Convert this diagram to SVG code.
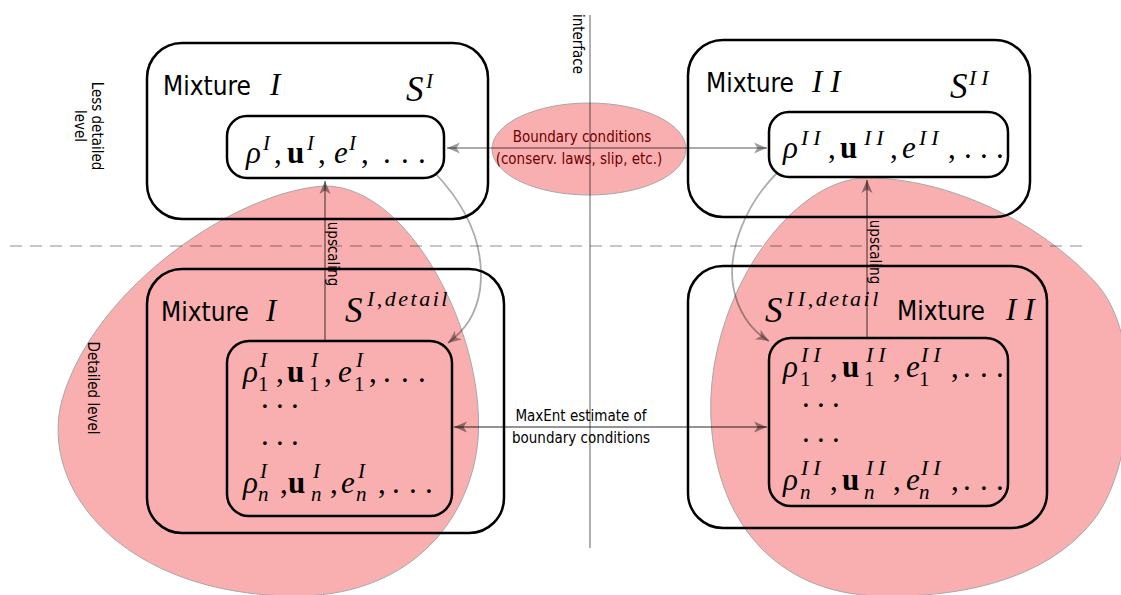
<svg xmlns="http://www.w3.org/2000/svg" width="1121" height="595" viewBox="0 0 1121 595">
  <style>
    .box { fill: none; stroke: #000; stroke-width: 2.5; }
    .blob { fill: #f9afaf; stroke: #a8a8a8; stroke-width: 1; }
    .lbl { font-family: "DejaVu Sans Condensed", "DejaVu Sans", sans-serif; fill: #000; }
    .mix { font-size: 26px; }
    .small { font-size: 15px; }
    .bc { fill: #700000; }
    .m { font-family: "Liberation Serif", "DejaVu Serif", serif; font-style: italic; font-size: 31px; fill: #000; }
    .b { font-style: normal; font-weight: bold; }
    .r { font-style: normal; }
    .sc { font-size: 21px; }
    .sc2 { font-size: 22px; letter-spacing: 5px; }
    .det { font-size: 22px; letter-spacing: 2.5px; }
    .big { font-size: 35px; }
    .roman2 { letter-spacing: 8px; }
    .dark { fill: none; stroke: #000; stroke-opacity: 0.42; stroke-width: 1.8; }
    .light { fill: none; stroke: #000; stroke-opacity: 0.33; stroke-width: 1.8; }
  </style>
  <defs>
    <marker id="arrDark" markerUnits="userSpaceOnUse" viewBox="0 -6 14 12" markerWidth="14" markerHeight="12" refX="13" refY="0" orient="auto-start-reverse">
      <path d="M 13,0 L 0,-5.5 L 3.5,0 L 0,5.5 Z" fill="#000" fill-opacity="0.42"/>
    </marker>
    <marker id="arrLight" markerUnits="userSpaceOnUse" viewBox="0 -6 14 12" markerWidth="14" markerHeight="12" refX="13" refY="0" orient="auto-start-reverse">
      <path d="M 13,0 L 0,-5.5 L 3.5,0 L 0,5.5 Z" fill="#000" fill-opacity="0.38"/>
    </marker>
  </defs>

  <rect width="1121" height="595" fill="#fff"/>

  <!-- detailed-level regions -->
  <g id="region-left">
    <path class="blob" d="M 325,186 C 240,190 95,285 62,400 C 38,490 125,594 292,596 C 405,598 470,525 478,440 C 486,335 410,186 325,186 Z"/>
  </g>
  <g id="region-right">
    <path class="blob" d="M 867,178 C 948,178 1040,222 1095,282 C 1145,335 1135,470 1092,522 C 1045,580 960,598 880,596 C 775,594 716,520 711,420 C 705,300 790,178 867,178 Z"/>
  </g>

  <!-- boundary condition bubble -->
  <g id="boundary">
    <ellipse class="blob" cx="589" cy="149" rx="97" ry="46"/>
  </g>

  <!-- guides: interface and level separator -->
  <g id="guides">
    <line x1="590" y1="15" x2="590" y2="548" stroke="#000" stroke-opacity="0.35" stroke-width="1.8"/>
    <line x1="10" y1="246" x2="1085" y2="246" stroke="#000" stroke-opacity="0.22" stroke-width="2" stroke-dasharray="12 8"/>
    <text class="lbl small" transform="translate(573,44) rotate(90)" text-anchor="middle">interface</text>
    <text class="lbl small" transform="translate(92,126) rotate(90)" text-anchor="middle">Less detailed</text>
    <text class="lbl small" transform="translate(75,126) rotate(90)" text-anchor="middle">level</text>
    <text class="lbl small" transform="translate(88,388) rotate(90)" text-anchor="middle">Detailed level</text>
  </g>

  <!-- Mixture I, coarse level -->
  <g id="mix1-coarse">
    <rect class="box" x="147" y="43" width="341" height="176" rx="35"/>
    <text class="lbl mix" x="163" y="95">Mixture</text>
    <text class="m" x="270" y="95">I</text>
    <text class="m"><tspan class="big" x="406" y="101">S</tspan><tspan class="sc" x="426" y="88">I</tspan></text>
    <g id="mix1-coarse-vars">
      <rect class="box" x="227" y="116" width="217" height="62" rx="20"/>
      <text class="m">
        <tspan x="246" y="163">ρ</tspan><tspan class="sc" x="263" y="150">I</tspan><tspan class="r" x="274" y="163">,</tspan>
        <tspan class="b" x="287" y="163">u</tspan><tspan class="sc" x="307" y="150">I</tspan><tspan class="r" x="318" y="163">,</tspan>
        <tspan x="334" y="163">e</tspan><tspan class="sc" x="349" y="150">I</tspan><tspan class="r" x="361" y="163">,</tspan>
        <tspan class="r" x="383 401 418" y="163">...</tspan>
      </text>
    </g>
  </g>

  <!-- Mixture II, coarse level -->
  <g id="mix2-coarse">
    <rect class="box" x="688" y="40" width="342" height="177" rx="35"/>
    <text class="lbl mix" x="706" y="92">Mixture</text>
    <text class="m roman2" x="812" y="92">II</text>
    <text class="m"><tspan class="big" x="950" y="98">S</tspan><tspan class="sc2" x="969" y="85">II</tspan></text>
    <g id="mix2-coarse-vars">
      <rect class="box" x="769" y="112" width="239" height="65" rx="20"/>
      <text class="m">
        <tspan x="783" y="158">ρ</tspan><tspan class="sc2" x="801" y="145">II</tspan><tspan class="r" x="828" y="158">,</tspan>
        <tspan class="b" x="840" y="158">u</tspan><tspan class="sc2" x="864" y="145">II</tspan><tspan class="r" x="890" y="158">,</tspan>
        <tspan x="902" y="158">e</tspan><tspan class="sc2" x="919" y="145">II</tspan><tspan class="r" x="948" y="158">,</tspan>
        <tspan class="r" x="964 980 996" y="158">...</tspan>
      </text>
    </g>
  </g>

  <!-- Mixture I, detailed level -->
  <g id="mix1-detail">
    <rect class="box" x="147" y="269" width="357" height="264" rx="35"/>
    <text class="lbl mix" x="161" y="321">Mixture</text>
    <text class="m" x="266" y="321">I</text>
    <text class="m"><tspan class="big" x="345" y="322">S</tspan><tspan class="det" x="367" y="306">I<tspan class="r">,</tspan>detail</tspan></text>
    <g id="mix1-detail-vars">
      <rect class="box" x="227" y="341" width="225" height="175" rx="22"/>
      <text class="m">
        <tspan x="243" y="382">ρ</tspan><tspan class="sc" x="260" y="367">I</tspan><tspan class="r" x="276" y="382">,</tspan>
        <tspan class="b" x="287" y="382">u</tspan><tspan class="sc" x="311" y="367">I</tspan><tspan class="r" x="324" y="382">,</tspan>
        <tspan x="338" y="382">e</tspan><tspan class="sc" x="356" y="367">I</tspan><tspan class="r" x="369" y="382">,</tspan>
        <tspan class="r" x="383 401 418" y="382">...</tspan>
      </text>
      <text class="m sc r"><tspan x="258" y="391">1</tspan><tspan x="309" y="391">1</tspan><tspan x="354" y="391">1</tspan></text>
      <text class="m"><tspan class="r" x="261 276 291" y="408">...</tspan></text>
      <text class="m"><tspan class="r" x="261 276 291" y="445">...</tspan></text>
      <text class="m">
        <tspan x="243" y="493">ρ</tspan><tspan class="sc" x="260" y="478">I</tspan><tspan class="r" x="280" y="493">,</tspan>
        <tspan class="b" x="288" y="493">u</tspan><tspan class="sc" x="313" y="478">I</tspan><tspan class="r" x="330" y="493">,</tspan>
        <tspan x="341" y="493">e</tspan><tspan class="sc" x="358" y="478">I</tspan><tspan class="r" x="378" y="493">,</tspan>
        <tspan class="r" x="392 409 425" y="493">...</tspan>
      </text>
      <text class="m sc"><tspan x="258" y="501">n</tspan><tspan x="311" y="501">n</tspan><tspan x="356" y="501">n</tspan></text>
    </g>
  </g>

  <!-- Mixture II, detailed level -->
  <g id="mix2-detail">
    <rect class="box" x="688" y="266" width="359" height="262" rx="35"/>
    <text class="m"><tspan class="big" x="765" y="322">S</tspan><tspan class="det" x="786" y="306">I<tspan dx="2">I</tspan><tspan class="r">,</tspan>detail</tspan></text>
    <text class="lbl mix" x="897" y="320">Mixture</text>
    <text class="m roman2" x="1006" y="320">II</text>
    <g id="mix2-detail-vars">
      <rect class="box" x="769" y="338" width="239" height="168" rx="22"/>
      <text class="m">
        <tspan x="783" y="377">ρ</tspan><tspan class="sc2" x="801" y="362">II</tspan><tspan class="r" x="830" y="377">,</tspan>
        <tspan class="b" x="842" y="377">u</tspan><tspan class="sc2" x="866" y="362">II</tspan><tspan class="r" x="893" y="377">,</tspan>
        <tspan x="906" y="377">e</tspan><tspan class="sc2" x="921" y="362">II</tspan><tspan class="r" x="951" y="377">,</tspan>
        <tspan class="r" x="963 980 996" y="377">...</tspan>
      </text>
      <text class="m sc r"><tspan x="800" y="386">1</tspan><tspan x="864" y="386">1</tspan><tspan x="919" y="386">1</tspan></text>
      <text class="m"><tspan class="r" x="802 817 832" y="407">...</tspan></text>
      <text class="m"><tspan class="r" x="802 817 832" y="442">...</tspan></text>
      <text class="m">
        <tspan x="783" y="490">ρ</tspan><tspan class="sc2" x="801" y="475">II</tspan><tspan class="r" x="830" y="490">,</tspan>
        <tspan class="b" x="842" y="490">u</tspan><tspan class="sc2" x="866" y="475">II</tspan><tspan class="r" x="893" y="490">,</tspan>
        <tspan x="906" y="490">e</tspan><tspan class="sc2" x="921" y="475">II</tspan><tspan class="r" x="951" y="490">,</tspan>
        <tspan class="r" x="963 980 996" y="490">...</tspan>
      </text>
      <text class="m sc"><tspan x="800" y="499">n</tspan><tspan x="864" y="499">n</tspan><tspan x="919" y="499">n</tspan></text>
    </g>
  </g>

  <!-- connectors -->
  <g id="connectors">
    <line class="light" x1="447" y1="148" x2="767" y2="148" marker-start="url(#arrLight)" marker-end="url(#arrLight)"/>
    <line class="dark" x1="454" y1="427" x2="767" y2="427" marker-start="url(#arrDark)" marker-end="url(#arrDark)"/>
    <line class="dark" x1="325" y1="340" x2="325" y2="181" marker-end="url(#arrDark)"/>
    <line class="dark" x1="867" y1="338" x2="867" y2="180" marker-end="url(#arrDark)"/>
    <path class="light" d="M 435,173 C 470,210 485,250 480,290 C 476,315 465,330 448,343" marker-end="url(#arrLight)"/>
    <path class="light" d="M 777,173 C 745,205 728,250 733,285 C 737,310 750,330 769,341" marker-end="url(#arrLight)"/>
    <text class="lbl small" transform="translate(328,254) rotate(90)" text-anchor="middle">upscaling</text>
    <text class="lbl small" transform="translate(870,252) rotate(90)" text-anchor="middle">upscaling</text>
    <text class="lbl small" x="581" y="421" text-anchor="middle">MaxEnt estimate of</text>
    <text class="lbl small" x="581" y="443" text-anchor="middle">boundary conditions</text>
    <text class="lbl small bc" x="582" y="142" text-anchor="middle">Boundary conditions</text>
    <text class="lbl small bc" x="579" y="164" text-anchor="middle">(conserv. laws, slip, etc.)</text>
  </g>
</svg>
